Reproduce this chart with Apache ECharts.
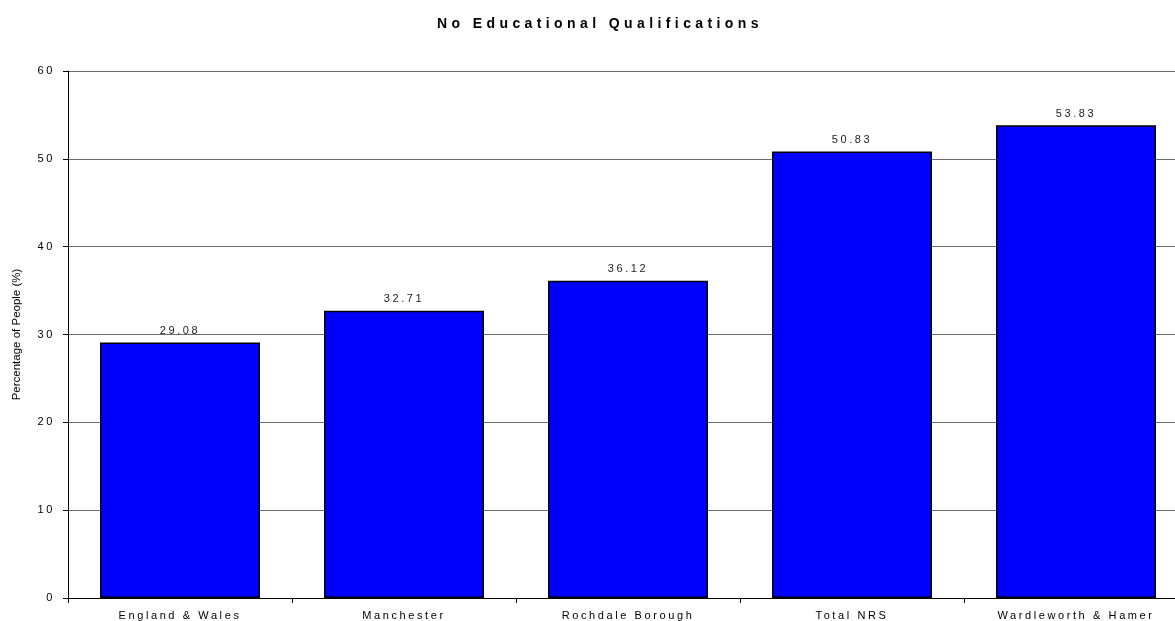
<!DOCTYPE html>
<html lang="en">

<head>
  <meta charset="UTF-8">
  <title>No Educational Qualifications</title>
  <script src="https://cdn.jsdelivr.net/npm/echarts@6/dist/echarts.min.js"></script>
  <style>
    html, body { margin: 0; padding: 0; background: #fff; }
  </style>
</head>

<body>
  <div id="main" style="width: 1175px;height:621px;"></div>
  <script>
    // data
    var areas = ['England & Wales', 'Manchester', 'Rochdale Borough', 'Total NRS', 'Wardleworth & Hamer']
    var percents = [29.08, 32.71, 36.12, 50.83, 53.83]
    var yTicks = { min: 0, max: 60, step: 10 }

    // the original has wide letter spacing on its text, canvas can do that
    var fillText = CanvasRenderingContext2D.prototype.fillText
    CanvasRenderingContext2D.prototype.fillText = function (t, x, y, w) {
      var m = this.getTransform()
      if (Math.abs(m.b) > 0.01) this.letterSpacing = '0px'   // rotated axis name
      else if (/bold/.test(this.font)) this.letterSpacing = '4.4px'
      else this.letterSpacing = '2.6px'
      return w === undefined ? fillText.call(this, t, x, y) : fillText.call(this, t, x, y, w)
    }

    var myChart = echarts.init(document.getElementById('main'))
    var font = 'Liberation Sans, Arial, sans-serif'

    var option = {
      animation: false,
      title: {
        text: 'No Educational Qualifications',
        left: 432,
        top: 12,
        textStyle: { fontFamily: font, fontSize: 14, fontWeight: 'bold', color: '#000' }
      },
      grid: { left: 68, top: 71, width: 1120, height: 527, outerBoundsMode: 'none', containLabel: false },
      xAxis: {
        type: 'category',
        data: areas,
        axisLine: { lineStyle: { color: '#000', width: 1 } },
        axisTick: { show: true, length: 5, lineStyle: { color: '#000' } },
        axisLabel: { fontFamily: font, fontSize: 11, color: '#000', margin: 12 }
      },
      yAxis: {
        type: 'value',
        min: yTicks.min,
        max: yTicks.max,
        interval: yTicks.step,
        name: 'Percentage of People (%)',
        nameLocation: 'middle',
        nameGap: 45,
        nameTextStyle: { fontFamily: font, fontSize: 11.5, color: '#000' },
        axisLine: { show: true, lineStyle: { color: '#000', width: 1 } },
        axisTick: { show: true, length: 5, lineStyle: { color: '#000' } },
        axisLabel: { fontFamily: font, fontSize: 11, color: '#000', margin: 13 },
        splitLine: { lineStyle: { color: '#6e6e6e', width: 1 } }
      },
      series: [{
        type: 'bar',
        data: percents,
        barWidth: 160,
        itemStyle: { color: '#0000ff', borderColor: '#000', borderWidth: 1.5 },
        label: {
          show: true,
          position: 'top',
          distance: 6,
          fontFamily: font,
          fontSize: 11,
          color: '#222',
          formatter: function (p) { return p.value.toFixed(2) }
        }
      }]
    }
    myChart.setOption(option)
  </script>
</body>

</html>
